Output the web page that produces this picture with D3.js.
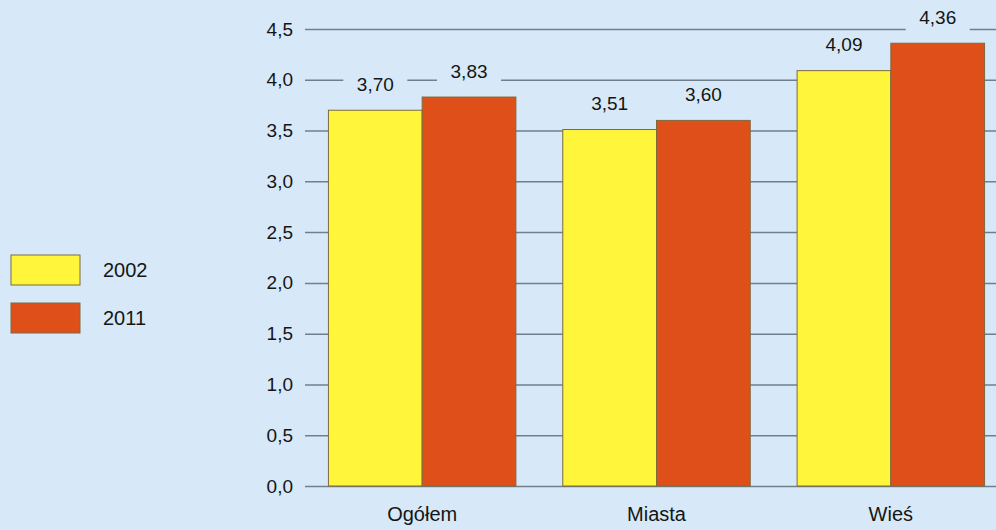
<!DOCTYPE html>
<html>
<head>
<meta charset="utf-8">
<script src="https://cdn.jsdelivr.net/npm/d3@7"></script>
<style>
  body { margin: 0; background: #d7e9f8; }
  svg { display: block; font-family: "Liberation Sans", Arial, sans-serif; }
</style>
</head>
<body>
<svg id="chart"></svg>
<script>
// data
var categories = ["Ogółem", "Miasta", "Wieś"]
var years = ["2002", "2011"]
var values2002 = [3.70, 3.51, 4.09]
var values2011 = [3.83, 3.60, 4.36]
var yTicks = [0, 0.5, 1, 1.5, 2, 2.5, 3, 3.5, 4, 4.5]
var colors = ["#fff53a", "#df4f1a"]

var width = 996, height = 530
var svg = d3.select("#chart").attr("width", width).attr("height", height)

var bg = "#d7e9f8"
var txt = "#151515"
svg.append("rect").attr("width", width).attr("height", height).attr("fill", bg)

var fmt = function (v, d) { return v.toFixed(d).replace(".", ",") }

var y = d3.scaleLinear().domain([0, 4.5]).range([486, 29])
var x0 = d3.scaleBand().domain(categories).range([305, 1008]).paddingInner(0.2).paddingOuter(0.1)
var x1 = d3.scaleBand().domain(years).range([0, x0.bandwidth()])

// gridlines + tick labels
var yAxis = d3.axisLeft(y).tickValues(yTicks).tickSize(-(width - 305)).tickFormat(function (d) { return fmt(d, 1) })
var ga = svg.append("g").attr("transform", "translate(305,0)").call(yAxis)
ga.select(".domain").remove()
ga.selectAll(".tick line").attr("stroke", "#6f7f8c").attr("stroke-width", 1.5)
ga.selectAll(".tick text").attr("x", -12).attr("fill", txt).style("font-size", "19px").style("font-family", "inherit")

// bars
var rows = categories.map(function (c, i) {
  return { cat: c, vals: [values2002[i], values2011[i]] }
})

var groups = svg.selectAll(".grp").data(rows).enter().append("g")
  .attr("transform", function (d) { return "translate(" + x0(d.cat) + ",0)" })

groups.selectAll("rect").data(function (d) {
  return d.vals.map(function (v, j) { return { year: years[j], v: v, j: j } })
}).enter().append("rect")
  .attr("x", function (d) { return x1(d.year) })
  .attr("y", function (d) { return y(d.v) })
  .attr("width", x1.bandwidth())
  .attr("height", function (d) { return y(0) - y(d.v) })
  .attr("fill", function (d) { return colors[d.j] })
  .attr("stroke", "#7d6a3c").attr("stroke-width", 1)

// value labels with background patches cutting the gridlines
var labs = groups.selectAll(".lab").data(function (d) {
  return d.vals.map(function (v, j) { return { year: years[j], v: v } })
}).enter().append("g")
  .attr("transform", function (d) { return "translate(" + (x1(d.year) + x1.bandwidth() / 2) + "," + (y(d.v) - 26) + ")" })

labs.append("rect").attr("x", -32).attr("y", -13).attr("width", 64).attr("height", 27).attr("fill", bg)
labs.append("text").attr("text-anchor", "middle").attr("dy", "0.35em")
  .style("font-size", "19px").attr("fill", txt)
  .text(function (d) { return fmt(d.v, 2) })

// category labels
svg.selectAll(".cat").data(categories).enter().append("text")
  .attr("x", function (d) { return x0(d) + x0.bandwidth() / 2 })
  .attr("y", 521).attr("text-anchor", "middle")
  .style("font-size", "20px").attr("fill", txt)
  .text(function (d) { return d })

// legend
var leg = svg.selectAll(".leg").data(years).enter().append("g")
  .attr("transform", function (d, i) { return "translate(11," + (255 + i * 48) + ")" })
leg.append("rect").attr("width", 69).attr("height", 30)
  .attr("fill", function (d, i) { return colors[i] }).attr("stroke", "#7d6a3c")
leg.append("text").attr("x", 92).attr("y", 15).attr("dy", "0.35em")
  .style("font-size", "20px").attr("fill", txt).text(function (d) { return d })
</script>
</body>
</html>
